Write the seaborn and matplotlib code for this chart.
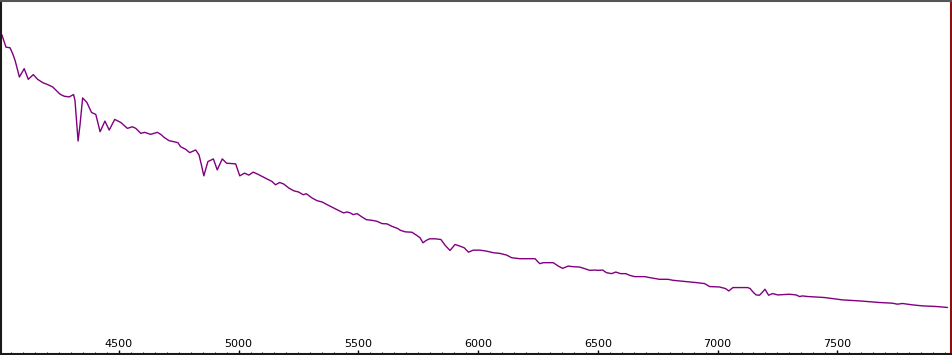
import matplotlib
matplotlib.use("Agg")
import matplotlib.pyplot as plt
from matplotlib.ticker import MultipleLocator
import seaborn as sns
import pandas as pd

wavelength = [4012, 4029, 4046, 4057, 4067, 4085, 4105, 4122, 4143, 4161,
              4182, 4203, 4224, 4238, 4255, 4272, 4293, 4311, 4317, 4325,
              4330, 4338, 4349, 4367, 4386, 4404, 4422, 4442, 4460, 4483,
              4508, 4536, 4557, 4571, 4592, 4608, 4633, 4661, 4675, 4689,
              4710, 4730, 4747, 4758, 4779, 4796, 4821, 4835, 4845, 4855,
              4872, 4895, 4911, 4932, 4950, 4988, 5005, 5025, 5043, 5061,
              5080, 5099, 5120, 5140, 5154, 5172, 5189, 5210, 5230, 5251,
              5270, 5283, 5307, 5328, 5349, 5370, 5397, 5425, 5439, 5453,
              5467, 5478, 5495, 5515, 5533, 5557, 5578, 5599, 5620, 5640,
              5665, 5675, 5696, 5724, 5745, 5758, 5770, 5783, 5797, 5821,
              5845, 5863, 5883, 5904, 5925, 5942, 5960, 5980, 6008, 6036,
              6064, 6092, 6120, 6140, 6175, 6238, 6247, 6258, 6272, 6314,
              6335, 6353, 6376, 6397, 6425, 6446, 6467, 6488, 6501, 6520,
              6536, 6557, 6575, 6595, 6617, 6633, 6654, 6696, 6717, 6758,
              6793, 6814, 6870, 6911, 6946, 6967, 7008, 7033, 7047, 7064,
              7126, 7136, 7150, 7161, 7175, 7186, 7198, 7213, 7230, 7251,
              7300, 7328, 7342, 7355, 7376, 7446, 7522, 7592, 7675, 7730,
              7751, 7772, 7814, 7855, 7911, 7960]

flux = [3.207, 3.083, 3.077, 3.017, 2.950, 2.783, 2.867, 2.760, 2.807, 2.760,
        2.727, 2.707, 2.683, 2.650, 2.610, 2.590, 2.583, 2.607, 2.550, 2.300,
        2.140, 2.300, 2.573, 2.527, 2.427, 2.407, 2.233, 2.340, 2.250, 2.357,
        2.327, 2.267, 2.283, 2.267, 2.217, 2.227, 2.207, 2.227, 2.207, 2.177,
        2.143, 2.133, 2.123, 2.083, 2.057, 2.023, 2.050, 2.000, 1.900, 1.790,
        1.933, 1.960, 1.850, 1.960, 1.917, 1.910, 1.790, 1.817, 1.797, 1.827,
        1.807, 1.783, 1.757, 1.733, 1.700, 1.723, 1.707, 1.667, 1.640, 1.627,
        1.600, 1.610, 1.567, 1.540, 1.527, 1.500, 1.467, 1.433, 1.417, 1.427,
        1.417, 1.400, 1.410, 1.377, 1.350, 1.343, 1.333, 1.310, 1.307, 1.283,
        1.260, 1.243, 1.227, 1.223, 1.190, 1.167, 1.117, 1.140, 1.157, 1.157,
        1.150, 1.090, 1.040, 1.100, 1.083, 1.067, 1.023, 1.043, 1.043, 1.033,
        1.017, 1.010, 0.993, 0.967, 0.957, 0.957, 0.933, 0.907, 0.917, 0.917,
        0.883, 0.860, 0.883, 0.877, 0.873, 0.857, 0.840, 0.843, 0.840, 0.843,
        0.817, 0.807, 0.823, 0.807, 0.807, 0.790, 0.777, 0.777, 0.767, 0.750,
        0.750, 0.740, 0.727, 0.717, 0.707, 0.677, 0.673, 0.657, 0.633, 0.667,
        0.667, 0.657, 0.617, 0.593, 0.590, 0.617, 0.650, 0.590, 0.607, 0.593,
        0.600, 0.593, 0.577, 0.583, 0.577, 0.567, 0.543, 0.533, 0.517, 0.510,
        0.500, 0.507, 0.493, 0.483, 0.477, 0.467]

tick_values = [4500, 5000, 5500, 6000, 6500, 7000, 7500]

sns.set_style("white")
plt.rcParams['font.family'] = ['DejaVu Sans']

df = pd.DataFrame({"wavelength": wavelength, "flux": flux})

fig = plt.figure(figsize=(9.53, 3.55), dpi=100)
ax = fig.add_axes([0.001, 0.003, 0.997, 0.995])
sns.lineplot(data=df, x="wavelength", y="flux", ax=ax, color="#800080",
             linewidth=1.0, sort=False)

ax.set_xlim(4008, 7975)
ax.set_ylim(0, 3.55)
ax.set_xticks(tick_values)
ax.set_xticklabels([str(v) for v in tick_values])
ax.xaxis.set_minor_locator(MultipleLocator(50))
ax.tick_params(axis="x", which="major", direction="in", length=3, width=1,
               pad=-11, labelsize=8, colors="black", bottom=True)
ax.tick_params(axis="x", which="minor", direction="in", length=1.8, width=0.8,
               bottom=True)
ax.set_yticks([])
ax.set_xlabel("")
ax.set_ylabel("")
for name, s in ax.spines.items():
    s.set_visible(True)
    s.set_color("#1a1a1a")
    s.set_linewidth(1.5)
ax.spines["top"].set_color("#555555")
ax.spines["right"].set_color("#8a1010")

fig.savefig("out.png", dpi=100)
